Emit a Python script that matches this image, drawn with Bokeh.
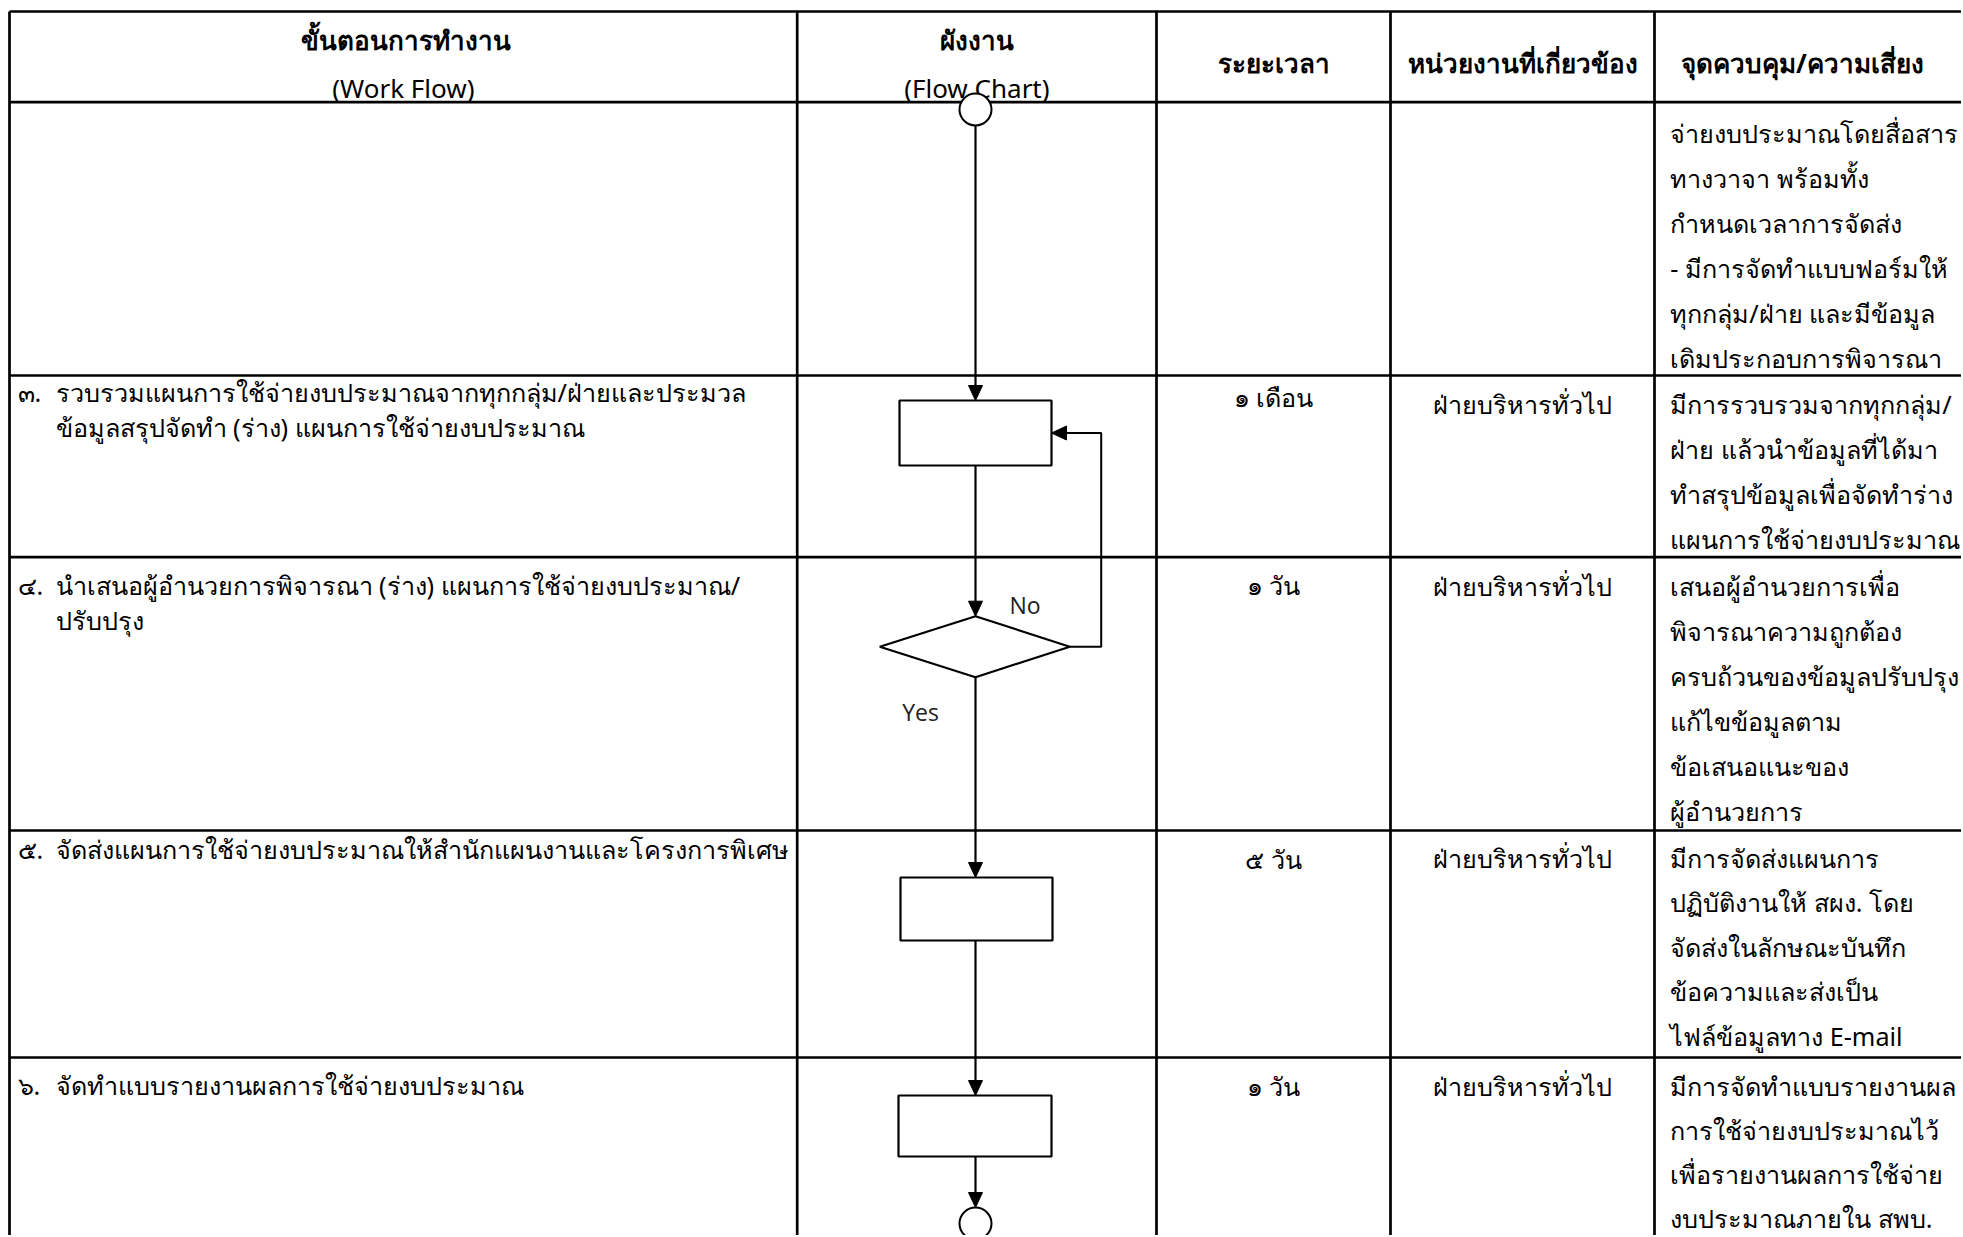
from bokeh.plotting import figure
from bokeh.models import Range1d
from bokeh.core.properties import value
from bokeh.embed import file_html
from bokeh.resources import INLINE

# ---------------- data ----------------
header_thai = ["ขั้นตอนการทำงาน", "ผังงาน", "ระยะเวลา", "หน่วยงานที่เกี่ยวข้อง", "จุดควบคุม/ความเสี่ยง"]
header_eng = ["(Work Flow)", "(Flow Chart)", "", "", ""]

step_numbers = ["", "๓.", "๔.", "๕.", "๖."]
step_lines = [
    [],
    ["รวบรวมแผนการใช้จ่ายงบประมาณจากทุกกลุ่ม/ฝ่ายและประมวล", "ข้อมูลสรุปจัดทำ (ร่าง) แผนการใช้จ่ายงบประมาณ"],
    ["นำเสนอผู้อำนวยการพิจารณา (ร่าง) แผนการใช้จ่ายงบประมาณ/", "ปรับปรุง"],
    ["จัดส่งแผนการใช้จ่ายงบประมาณให้สำนักแผนงานและโครงการพิเศษ"],
    ["จัดทำแบบรายงานผลการใช้จ่ายงบประมาณ"],
]
durations = ["", "๑ เดือน", "๑ วัน", "๕ วัน", "๑ วัน"]
units = ["", "ฝ่ายบริหารทั่วไป", "ฝ่ายบริหารทั่วไป", "ฝ่ายบริหารทั่วไป", "ฝ่ายบริหารทั่วไป"]
controls = [
    ["จ่ายงบประมาณโดยสื่อสาร", "ทางวาจา พร้อมทั้ง", "กำหนดเวลาการจัดส่ง",
     "- มีการจัดทำแบบฟอร์มให้", "ทุกกลุ่ม/ฝ่าย และมีข้อมูล", "เดิมประกอบการพิจารณา"],
    ["มีการรวบรวมจากทุกกลุ่ม/", "ฝ่าย แล้วนำข้อมูลที่ได้มา", "ทำสรุปข้อมูลเพื่อจัดทำร่าง", "แผนการใช้จ่ายงบประมาณ"],
    ["เสนอผู้อำนวยการเพื่อ", "พิจารณาความถูกต้อง", "ครบถ้วนของข้อมูลปรับปรุง",
     "แก้ไขข้อมูลตาม", "ข้อเสนอแนะของ", "ผู้อำนวยการ"],
    ["มีการจัดส่งแผนการ", "ปฏิบัติงานให้ สผง. โดย", "จัดส่งในลักษณะบันทึก",
     "ข้อความและส่งเป็น", "ไฟล์ข้อมูลทาง E-mail"],
    ["มีการจัดทำแบบรายงานผล", "การใช้จ่ายงบประมาณไว้", "เพื่อรายงานผลการใช้จ่าย", "งบประมาณภายใน สพบ."],
]
decision_labels = ["No", "Yes"]

# ---------------- layout (page pixels) ----------------
col_edges = [9, 796.7, 1156, 1390, 1654]
table_right = 1975
row_edges = [11, 101.7, 375, 556.7, 830, 1057]
table_bottom = 1245

SHIFT = -8   # baseline correction for the Noto font stack
HSHIFT = -8
LSHIFT = -9  # baseline correction for Open Sans labels
step_base = [None, 399, 592, 856, 1092]
dur_base = [None, 404, 592, 866, 1093]
ctrl_base = [140, 411.7, 593, 865, 1093.7]
ctrl_gaps = [45, 45, 45, 44.5, 44]
step_gap = 35
num_x = 17
step_x = 55
ctrl_x = 1669.7
head_dx = [3, 0, 0, 0, 0]

THAI = value("Noto Sans")
FS = "25.2px"

W, H = 1961, 1235
p = figure(width=W, height=H, x_range=Range1d(0, W), y_range=Range1d(H, 0),
           output_backend="svg", toolbar_location=None, min_border=0,
           x_axis_location=None, y_axis_location=None)
p.grid.visible = False
p.outline_line_color = None
p.background_fill_color = "white"
p.border_fill_color = "white"

# table grid
p.segment(x0=[col_edges[0]] * len(row_edges), y0=row_edges, x1=[table_right] * len(row_edges),
          y1=row_edges, line_color="black", line_width=2.7)
p.segment(x0=col_edges, y0=[row_edges[0]] * len(col_edges), x1=col_edges,
          y1=[table_bottom] * len(col_edges), line_color="black", line_width=2.7)

# headers
col_right = col_edges[1:] + [1950]
centers = [(col_edges[i] + col_right[i]) / 2 for i in range(5)]
two = [i for i in range(5) if header_eng[i]]
one = [i for i in range(5) if not header_eng[i]]
p.text(x=[centers[i] + head_dx[i] for i in two], y=[47 + HSHIFT] * len(two),
       text=[header_thai[i] for i in two],
       text_font=THAI, text_font_size="26px", text_font_style="bold", text_align="center",
       text_baseline="alphabetic", text_color="black")
p.text(x=[centers[i] for i in two], y=[95 + HSHIFT] * len(two), text=[header_eng[i] for i in two],
       text_font=THAI, text_font_size="26px", text_align="center",
       text_baseline="alphabetic", text_color="black")
p.text(x=[centers[i] for i in one], y=[70 + HSHIFT] * len(one), text=[header_thai[i] for i in one],
       text_font=THAI, text_font_size="26px", text_font_style="bold", text_align="center",
       text_baseline="alphabetic", text_color="black")

# body texts
nx, ny, nt = [], [], []
sx, sy, st = [], [], []
dx, dy, dt = [], [], []
ux, uy, ut = [], [], []
cx_, cy_, ct = [], [], []
for r in range(5):
    if step_numbers[r]:
        nx.append(num_x); ny.append(step_base[r] + SHIFT); nt.append(step_numbers[r])
    for k, line in enumerate(step_lines[r]):
        sx.append(step_x); sy.append(step_base[r] + k * step_gap + SHIFT); st.append(line)
    if durations[r]:
        dx.append(centers[2]); dy.append(dur_base[r] + SHIFT); dt.append(durations[r])
    if units[r]:
        ux.append(centers[3]); uy.append(ctrl_base[r] + SHIFT); ut.append(units[r])
    for k, line in enumerate(controls[r]):
        cx_.append(ctrl_x); cy_.append(ctrl_base[r] + k * ctrl_gaps[r] + SHIFT); ct.append(line)

common = dict(text_font=THAI, text_font_size=FS, text_baseline="alphabetic", text_color="black")
p.text(x=nx, y=ny, text=nt, text_align="left", **common)
p.text(x=sx, y=sy, text=st, text_align="left", **common)
p.text(x=dx, y=dy, text=dt, text_align="center", **common)
p.text(x=ux, y=uy, text=ut, text_align="center", **common)
p.text(x=cx_, y=cy_, text=ct, text_align="left", **common)

# ---------------- flow chart ----------------
fx = 975.0
R = 16
AH, AW = 15, 7
start_c = (fx, 109)
box1 = (899, 1051, 400, 465)
dia = (879.3, 1069.3, 615.7, 676.7)
box2 = (900, 1052, 877, 940)
box3 = (898, 1051, 1095, 1156)
end_c = (fx, 1223)
loop_x = 1100.7

bx = [box1, box2, box3]
p.quad(left=[b[0] for b in bx], right=[b[1] for b in bx], top=[b[2] for b in bx],
       bottom=[b[3] for b in bx], fill_color="white", line_color="black", line_width=2.2)
dmid = (dia[2] + dia[3]) / 2
p.patch(x=[fx, dia[1], fx, dia[0]], y=[dia[2], dmid, dia[3], dmid],
        fill_color="white", line_color="black", line_width=2.2)

conns = [
    (start_c[1] + R, box1[2]),
    (box1[3], dia[2]),
    (dia[3], box2[2]),
    (box2[3], box3[2]),
    (box3[3], end_c[1] - R),
]
p.segment(x0=[fx] * len(conns), y0=[c[0] for c in conns], x1=[fx] * len(conns),
          y1=[c[1] - AH for c in conns], line_color="black", line_width=2.2)
p.patches(xs=[[fx - AW, fx + AW, fx] for c in conns],
          ys=[[c[1] - AH, c[1] - AH, c[1]] for c in conns],
          fill_color="black", line_color="black", line_width=1)

box1_mid = (box1[2] + box1[3]) / 2
p.line(x=[dia[1], loop_x, loop_x, box1[1] + AH], y=[dmid, dmid, box1_mid, box1_mid],
       line_color="black", line_width=2)
p.patch(x=[box1[1] + AH, box1[1] + AH, box1[1]], y=[box1_mid - AW, box1_mid + AW, box1_mid],
        fill_color="black", line_color="black", line_width=1)

p.ellipse(x=[start_c[0], end_c[0]], y=[start_c[1], end_c[1]], width=2 * R, height=2 * R,
          fill_color="white", line_color="black", line_width=2)

p.text(x=[1009, 901.7], y=[613 + LSHIFT, 720 + LSHIFT], text=decision_labels,
       text_font=value("Open Sans"), text_font_size="23px", text_baseline="alphabetic",
       text_align="left", text_color="#222222")

open("out.html", "w").write(file_html(p, INLINE))
